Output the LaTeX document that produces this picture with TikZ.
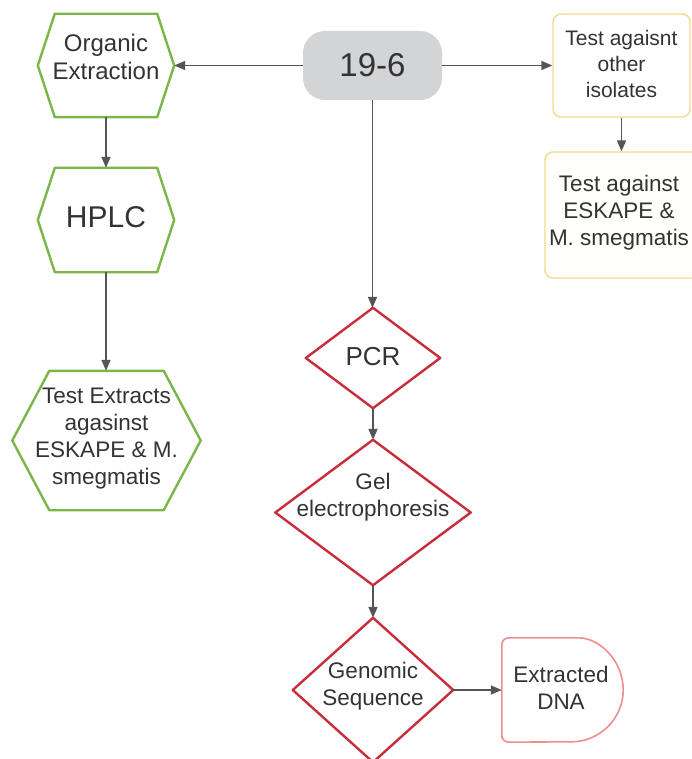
\documentclass[tikz,border=0pt]{standalone}
\usepackage{fontspec}
\setmainfont{Liberation Sans}
\usetikzlibrary{arrows.meta,calc}
\definecolor{gline}{HTML}{7AB648}
\definecolor{rline}{HTML}{C92D39}
\definecolor{yline}{HTML}{F5D98A}
\definecolor{sline}{HTML}{EE8E8E}
\definecolor{gfill}{HTML}{D3D4D6}
\definecolor{txt}{HTML}{333333}
\definecolor{arr}{HTML}{555555}
\newcommand\myhex[3]{\draw[#3] (#1.west) -- ([xshift=#2pt]#1.north west) -- ([xshift=-#2pt]#1.north east) -- (#1.east) -- ([xshift=-#2pt]#1.south east) -- ([xshift=#2pt]#1.south west) -- cycle;}
\newcommand\mydia[2]{\draw[#2] (#1.north) -- (#1.east) -- (#1.south) -- (#1.west) -- cycle;}
\begin{document}
\begin{tikzpicture}[x=1pt,y=-1pt,
  shapebox/.style={rectangle,draw=none,inner sep=0pt,minimum width=#1},
  lbl/.style={text=txt,align=center,inner sep=0pt,font=\fontsize{22.5}{27}\selectfont},
  greenedge/.style={draw=gline,line width=2.4pt,line join=round},
  rededge/.style={draw=rline,line width=2.4pt,line join=round},
  conn/.style={draw=arr,line width=1.7pt,-{Triangle[length=11pt,width=9pt]}}]
\useasboundingbox (0,0) rectangle (691,759);
\fill[white] (0,0) rectangle (691,759);

% left column hexagons
\node[shapebox=136pt,minimum height=103pt] (oe) at (106,65.5) {};
\myhex{oe}{17}{greenedge}
\node[lbl,font=\fontsize{24}{28}\selectfont] (oet) at (106,57) {Organic\\Extraction};

\node[shapebox=136pt,minimum height=104pt] (hplc) at (106,220) {};
\myhex{hplc}{17}{greenedge}
\node[lbl,font=\fontsize{30}{34}\selectfont] (hplct) at (106,217) {HPLC};

\node[shapebox=188pt,minimum height=139pt] (tex) at (106.5,440.5) {};
\myhex{tex}{37}{greenedge}
\node[lbl] (text) at (106.5,439) {Test Extracts\\agasinst\\ESKAPE \& M.\\smegmatis};

% start node
\node[rectangle,fill=gfill,rounded corners=22pt,minimum width=139pt,minimum height=69pt,inner sep=0pt,
  text=txt,font=\fontsize{33}{38}\selectfont] (s) at (372.5,65.5) {19-6};

% right column boxes
\node[rectangle,draw=yline,line width=1.4pt,rounded corners=8pt,minimum width=137pt,minimum height=103pt,inner sep=0pt] (t1) at (621.5,65.5) {};
\node[lbl,font=\fontsize{21}{26}\selectfont] (t1t) at (621.5,64) {Test agaisnt\\other\\isolates};

\node[rectangle,draw=yline,fill=white!99!yellow,line width=1.4pt,rounded corners=8pt,minimum width=155pt,minimum height=126pt,inner sep=0pt] (t2) at (622.5,215) {};
\node[lbl] (t2t) at (619,213) {Test against\\ESKAPE \&\\M. smegmatis};

% middle column diamonds
\node[shapebox=134pt,minimum height=100pt] (pcr) at (373,358) {};
\mydia{pcr}{rededge}
\node[lbl,font=\fontsize{26}{30}\selectfont] (pcrt) at (373,357) {PCR};

\node[shapebox=195pt,minimum height=145pt] (gel) at (373,512.5) {};
\mydia{gel}{rededge}
\node[lbl] (gelt) at (373,497.5) {Gel\\electrophoresis};

\node[shapebox=160pt,minimum height=144pt] (gen) at (373,690) {};
\mydia{gen}{rededge}
\node[lbl] (gent) at (373,686) {Genomic\\Sequence};

% delay shape
\node[shapebox=121pt,minimum height=104pt] (dna) at (562.5,690) {};
\draw[draw=sline,line width=1.6pt,rounded corners=7pt] (dna.south west) -- (dna.north west) -- ([xshift=-52pt]dna.north east) [sharp corners] arc[start angle=90,end angle=-90,radius=52pt] [rounded corners=7pt] -- (dna.south west) -- cycle;
\node[lbl] (dnat) at (561,688) {Extracted\\DNA};

% connectors
\draw[conn] (s.west) -- (oe.east);
\draw[conn] (s.east) -- (t1.west |- s.east);
\draw[conn] (t1.south) -- (t1.south |- t2.north);
\draw[conn] (oe.south) -- (hplc.north);
\draw[conn] (hplc.south) -- (hplc.south |- tex.north);
\draw[conn] (s.south) -- (s.south |- pcr.north);
\draw[conn] (pcr.south) -- (gel.north);
\draw[conn] (gel.south) -- (gen.north);
\draw[conn] (gen.east) -- (dna.west);
\end{tikzpicture}
\end{document}
